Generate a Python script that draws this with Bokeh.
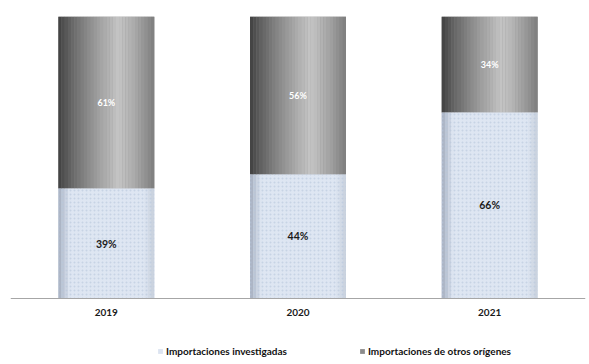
from bokeh.plotting import figure
from bokeh.models import FactorRange, ColumnDataSource, Legend, LegendItem, LabelSet, Span
from bokeh.transform import dodge
from bokeh.core.properties import value
from bokeh.embed import file_html
from bokeh.resources import INLINE

years = ["2019", "2020", "2021"]
investigadas = [0.39, 0.44, 0.66]
otros = [0.61, 0.56, 0.34]
series_names = ["Importaciones investigadas", "Importaciones de otros orígenes"]

FONT = "Lato"
BAR_W = 0.5

p = figure(x_range=FactorRange(*years), y_range=(-0.234, 1.0), width=589, height=364,
           output_backend="svg", toolbar_location=None,
           min_border_left=10, min_border_right=4, min_border_top=16, min_border_bottom=0)
p.outline_line_color = None
p.grid.visible = False
p.xaxis.visible = False
p.yaxis.visible = False

src = ColumnDataSource(dict(
    x=years,
    base=[0] * len(years),
    inv_top=investigadas,
    otros_bottom=investigadas,
    otros_top=[a + b for a, b in zip(investigadas, otros)],
    inv_mid=[a / 2 for a in investigadas],
    otros_mid=[a + b / 2 for a, b in zip(investigadas, otros)],
    inv_lbl=[f"{round(v*100)}%" for v in investigadas],
    otros_lbl=[f"{round(v*100)}%" for v in otros],
))

r_inv = p.vbar(x="x", width=BAR_W, bottom=0, top="inv_top", source=src,
               fill_color="#dce4f1", line_color=None)
r_otr = p.vbar(x="x", width=BAR_W, bottom="otros_bottom", top="otros_top", source=src,
               fill_color="#8c8c8c", line_color=None)


def grey_shade(t):
    if t < 0.62:
        v = 62 + (196 - 62) * (t / 0.62) ** 0.8
    else:
        v = 196 - (196 - 125) * ((t - 0.62) / 0.38) ** 1.3
    v = int(v)
    return f"#{v:02x}{v:02x}{v:02x}"


def blue_shade(t):
    base = (222, 230, 242)
    if t < 0.12:
        k = 1 - t / 0.12
        dark = (150, 160, 178)
        c = [int(b + (d - b) * k * 0.8) for b, d in zip(base, dark)]
    elif t > 0.9:
        k = (t - 0.9) / 0.1
        dark = (185, 192, 204)
        c = [int(b + (d - b) * k * 0.6) for b, d in zip(base, dark)]
    else:
        c = list(base)
    return "#%02x%02x%02x" % tuple(c)


N = 30
sw = BAR_W / N
for i in range(N):
    t = (i + 0.5) / N
    off = -BAR_W / 2 + (i + 0.5) * sw
    p.vbar(x=dodge("x", off, range=p.x_range), width=sw * 1.05, bottom="otros_bottom",
           top="otros_top", source=src, fill_color=grey_shade(t), line_color=None)
    p.vbar(x=dodge("x", off, range=p.x_range), width=sw * 1.05, bottom=0,
           top="inv_top", source=src, fill_color=blue_shade(t), line_color=None)

p.vbar(x="x", width=BAR_W, bottom=0, top="inv_top", source=src, fill_alpha=0,
       line_color=None, hatch_pattern="dot", hatch_color="#b8c6dc", hatch_alpha=0.6,
       hatch_scale=4, hatch_weight=1.5)

p.add_layout(Span(location=0, dimension="width", line_color="#a6a6a6", line_width=1.2))

p.add_layout(LabelSet(x="x", y="inv_mid", text="inv_lbl", source=src,
                      text_align="center", text_baseline="middle",
                      text_font=value(FONT), text_font_style="bold", text_font_size="10.5px",
                      text_color="#1a1a1a"))
p.add_layout(LabelSet(x="x", y="otros_mid", text="otros_lbl", source=src,
                      text_align="center", text_baseline="middle",
                      text_font=value(FONT), text_font_style="bold", text_font_size="9px",
                      text_color="white"))
p.add_layout(LabelSet(x="x", y="base", text="x", source=src, y_offset=-14,
                      text_align="center", text_baseline="middle",
                      text_font=value(FONT), text_font_style="bold", text_font_size="10px",
                      text_color="#1a1a1a"))

legend = Legend(items=[LegendItem(label=series_names[0], renderers=[r_inv]),
                       LegendItem(label=series_names[1], renderers=[r_otr])],
                orientation="horizontal", location=(147, 7),
                glyph_width=6, glyph_height=6, spacing=72,
                label_text_font=FONT, label_text_font_style="bold",
                label_text_font_size="10px", label_text_color="#111111",
                border_line_color=None, background_fill_alpha=0,
                padding=0, margin=0, label_standoff=3)
p.add_layout(legend, "center")

open("out.html", "w").write(file_html(p, INLINE))
